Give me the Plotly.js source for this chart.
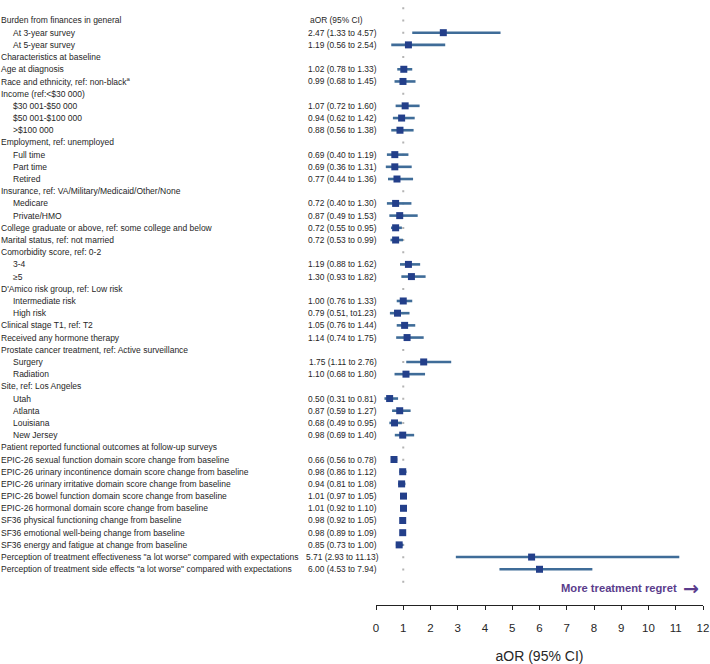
<!DOCTYPE html>
<html>
<head>
<meta charset="utf-8">
<script src="https://cdn.plot.ly/plotly-3.0.1.min.js"></script>
<style>html,body{margin:0;padding:0;background:#fff;}#chart{width:710px;height:664px;}</style>
</head>
<body>
<div id="chart"></div>
<script>
const labels = [
  "Burden from finances in general",
  "At 3-year survey",
  "At 5-year survey",
  "Characteristics at baseline",
  "Age at diagnosis",
  "Race and ethnicity, ref: non-black<sup>a</sup>",
  "Income (ref:<$30 000)",
  "$30 001-$50 000",
  "$50 001-$100 000",
  ">$100 000",
  "Employment, ref: unemployed",
  "Full time",
  "Part time",
  "Retired",
  "Insurance, ref: VA/Military/Medicaid/Other/None",
  "Medicare",
  "Private/HMO",
  "College graduate or above, ref: some college and below",
  "Marital status, ref: not married",
  "Comorbidity score, ref: 0-2",
  "3-4",
  "\u22655",
  "D'Amico risk group, ref: Low risk",
  "Intermediate risk",
  "High risk",
  "Clinical stage T1, ref: T2",
  "Received any hormone therapy",
  "Prostate cancer treatment, ref: Active surveillance",
  "Surgery",
  "Radiation",
  "Site, ref: Los Angeles",
  "Utah",
  "Atlanta",
  "Louisiana",
  "New Jersey",
  "Patient reported functional outcomes at follow-up surveys",
  "EPIC-26 sexual function domain score change from baseline",
  "EPIC-26 urinary incontinence domain score change from baseline",
  "EPIC-26 urinary irritative domain score change from baseline",
  "EPIC-26 bowel function domain score change from baseline",
  "EPIC-26 hormonal domain score change from baseline",
  "SF36 physical functioning change from baseline",
  "SF36 emotional well-being change from baseline",
  "SF36 energy and fatigue at change from baseline",
  "Perception of treatment effectiveness \"a lot worse\" compared with expectations",
  "Perception of treatment side effects \"a lot worse\" compared with expectations"
];
const isSub = [0,1,1,0,0,0,0,1,1,1,0,1,1,1,0,1,1,0,0,0,1,1,0,1,1,0,0,0,1,1,0,1,1,1,1,0,0,0,0,0,0,0,0,0,0,0];
const aor = [null,2.47,1.19,null,1.02,0.99,null,1.07,0.94,0.88,null,0.69,0.69,0.77,null,0.72,0.87,0.72,0.72,null,1.19,1.30,null,1.00,0.79,1.05,1.14,null,1.75,1.10,null,0.50,0.87,0.68,0.98,null,0.66,0.98,0.94,1.01,1.01,0.98,0.98,0.85,5.71,6.00];
const lo  = [null,1.33,0.56,null,0.78,0.68,null,0.72,0.62,0.56,null,0.40,0.36,0.44,null,0.40,0.49,0.55,0.53,null,0.88,0.93,null,0.76,0.51,0.76,0.74,null,1.11,0.68,null,0.31,0.59,0.49,0.69,null,0.56,0.86,0.81,0.97,0.92,0.92,0.89,0.73,2.93,4.53];
const hi  = [null,4.57,2.54,null,1.33,1.45,null,1.60,1.42,1.38,null,1.19,1.31,1.36,null,1.30,1.53,0.95,0.99,null,1.62,1.82,null,1.33,1.23,1.44,1.75,null,2.76,1.80,null,0.81,1.27,0.95,1.40,null,0.78,1.12,1.08,1.05,1.10,1.05,1.09,1.00,11.13,7.94];
const ciText = [
  "", "2.47 (1.33 to 4.57)", "1.19 (0.56 to 2.54)", "", "1.02 (0.78 to 1.33)", "0.99 (0.68 to 1.45)", "",
  "1.07 (0.72 to 1.60)", "0.94 (0.62 to 1.42)", "0.88 (0.56 to 1.38)", "",
  "0.69 (0.40 to 1.19)", "0.69 (0.36 to 1.31)", "0.77 (0.44 to 1.36)", "",
  "0.72 (0.40 to 1.30)", "0.87 (0.49 to 1.53)", "0.72 (0.55 to 0.95)", "0.72 (0.53 to 0.99)", "",
  "1.19 (0.88 to 1.62)", "1.30 (0.93 to 1.82)", "",
  "1.00 (0.76 to 1.33)", "0.79 (0.51, to1.23)", "1.05 (0.76 to 1.44)", "1.14 (0.74 to 1.75)", "",
  "1.75 (1.11 to 2.76)", "1.10 (0.68 to 1.80)", "",
  "0.50 (0.31 to 0.81)", "0.87 (0.59 to 1.27)", "0.68 (0.49 to 0.95)", "0.98 (0.69 to 1.40)", "",
  "0.66 (0.56 to 0.78)", "0.98 (0.86 to 1.12)", "0.94 (0.81 to 1.08)", "1.01 (0.97 to 1.05)",
  "1.01 (0.92 to 1.10)", "0.98 (0.92 to 1.05)", "0.98 (0.89 to 1.09)", "0.85 (0.73 to 1.00)",
  "5.71 (2.93 to 11.13)", "6.00 (4.53 to 7.94)"
];
const ciHeader = "aOR (95% CI)";
const xTicks = [0,1,2,3,4,5,6,7,8,9,10,11,12];
const nullLine = 1;

const rows = labels.map((_, i) => i + 1);
const W = 710, H = 664;
const plotL = 376, plotR = 703.3;
const pw = plotR - plotL;
const px2paper = px => (px - plotL) / pw;
const FONT = "Liberation Sans, Arial, Helvetica, sans-serif";
const txtColor = "#262626";
const purple = "#5a3c8c";

const trace = {
  type: "scatter",
  mode: "markers",
  x: aor,
  y: rows,
  marker: {symbol: "square", size: 7, color: "#233f8a"},
  error_x: {
    type: "data", symmetric: false,
    array: aor.map((v, i) => v == null ? null : hi[i] - v),
    arrayminus: aor.map((v, i) => v == null ? null : v - lo[i]),
    color: "#3f6c98", thickness: 2.6, width: 0
  },
  hoverinfo: "skip",
  showlegend: false
};

const annotations = [];
labels.forEach((t, i) => {
  annotations.push({
    xref: "paper", yref: "y", x: px2paper(isSub[i] ? 11 : -1), y: rows[i],
    xanchor: "left", yanchor: "middle", text: t, showarrow: false,
    font: {family: FONT, size: 8.5, color: txtColor}
  });
  if (ciText[i]) {
    annotations.push({
      xref: "paper", yref: "y", x: px2paper(342.5), y: rows[i],
      xanchor: "center", yanchor: "middle", text: ciText[i], showarrow: false,
      font: {family: FONT, size: 8.4, color: txtColor}
    });
  }
});
annotations.push({
  xref: "paper", yref: "y", x: px2paper(307.5), y: 1,
  xanchor: "left", yanchor: "middle", text: ciHeader, showarrow: false,
  font: {family: FONT, size: 8.4, color: txtColor}
});
annotations.push({
  xref: "paper", yref: "y", x: px2paper(679), y: 47.55,
  xanchor: "right", yanchor: "middle", text: "<b>More treatment regret</b>", showarrow: false,
  font: {family: FONT, size: 11.2, color: purple}
});
annotations.push({
  xref: "paper", yref: "y", x: px2paper(701), y: 47.5,
  xanchor: "right", yanchor: "middle", text: "<b>\u2192</b>", showarrow: false,
  font: {family: "DejaVu Sans", size: 19, color: purple}
});

const layout = {
  width: W, height: H,
  margin: {l: plotL, r: W - plotR, t: 0, b: 59},
  paper_bgcolor: "#fff", plot_bgcolor: "#fff",
  xaxis: {
    range: [0, 12], tickvals: xTicks, ticktext: xTicks.map(String),
    showgrid: false, zeroline: false, showline: true, linecolor: "#222", linewidth: 1,
    ticks: "outside", ticklen: 4, tickcolor: "#222", tickwidth: 1,
    ticklabelstandoff: 8,
    tickfont: {family: FONT, size: 11.5, color: txtColor},
    title: {text: "aOR (95% CI)", font: {family: FONT, size: 14, color: txtColor}, standoff: 22},
    fixedrange: true
  },
  yaxis: {
    range: [48.93, -0.68], showgrid: false, zeroline: false, showline: false,
    showticklabels: false, ticks: "", fixedrange: true
  },
  shapes: [{
    type: "line", xref: "x", yref: "y", x0: nullLine, x1: nullLine, y0: -1.08, y1: 47.3,
    line: {color: "#b4b4b4", width: 2, dash: "2px,10.2px"}, layer: "below"
  }],
  annotations: annotations,
  font: {family: FONT}
};

Plotly.newPlot("chart", [trace], layout, {displayModeBar: false, staticPlot: true});
</script>
</body>
</html>
